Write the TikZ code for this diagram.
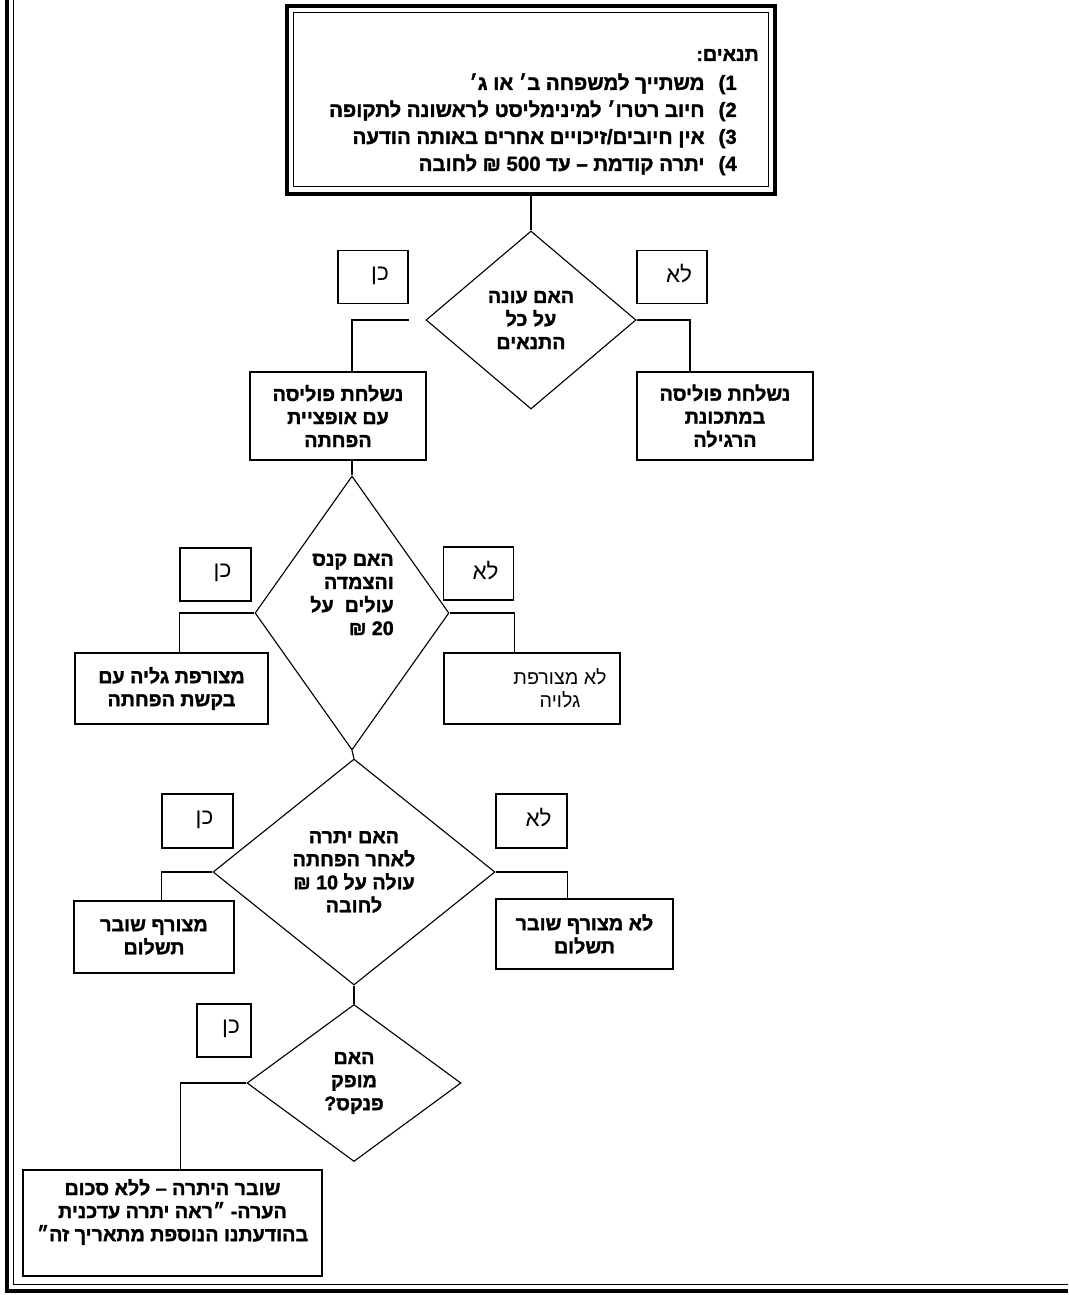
\documentclass[tikz,border=0pt]{standalone}
\usepackage{fontspec}
\usetikzlibrary{shapes.geometric}
\newfontfamily\hebfont[Script=Hebrew,BoldFeatures={FakeBold=1.6}]{Liberation Sans}
\TeXXeTstate=1
\def\px{0.025cm}
\newcommand\rl[1]{\beginR#1\endR}
\newcommand\ans[1]{\hspace*{10pt}\raisebox{5pt}{\rl{#1}}}
\newcommand\hebbold{\hebfont\bfseries\fontsize{14}{16.4}\selectfont}
\begin{document}
\begin{tikzpicture}[x=\px,y=-\px,
	line/.style={line width=0.8pt},
	box/.style={draw,line width=0.8pt,align=center,inner sep=0pt,font=\hebbold},
	ans/.style={draw,line width=0.8pt,minimum width=70*\px,minimum height=53*\px,inner sep=0pt,font=\hebfont\fontsize{16}{19}\selectfont},
	dec/.style={diamond,draw,line width=0.8pt,inner sep=0pt,align=center,font=\hebbold}]
	\useasboundingbox (0,0) rectangle (1068,1295);
	% page frame
	\draw[line width=2.4pt] (7,0) -- (7,1291) -- (1068,1291);
	\draw[line width=0.6pt] (13,0) -- (13,1284) -- (1068,1284);
	% conditions
	\node[draw,line width=2.2pt,minimum width=488*\px,minimum height=188*\px] (conds) at (531,100) {};
	\draw[line width=0.7pt] ([shift={(8,8)}]conds.north west) rectangle ([shift={(-8,-9)}]conds.south east);
	\node[anchor=east,inner sep=0pt,font=\hebbold] (condtitle) at (759,55) {\rl{תנאים:}};
	\node[anchor=north east,align=right,inner sep=0pt,font=\hebfont\bfseries\fontsize{14.5}{19.2}\selectfont] (condlist) at (737,73)
		{\beginR\beginL 1)\endL\hspace{10pt}משתייך למשפחה ב׳ או ג׳\endR\\
		 \beginR\beginL 2)\endL\hspace{10pt}חיוב רטרו׳ למינימליסט לראשונה לתקופה\endR\\
		 \beginR\beginL 3)\endL\hspace{10pt}אין חיובים/זיכויים אחרים באותה הודעה\endR\\
		 \beginR\beginL 4)\endL\hspace{10pt}יתרה קודמת – עד 500 ₪ לחובה\endR};
	% first question
	\node[dec,minimum width=210*\px,minimum height=178*\px] (d1) at (531,320) {\rl{האם עונה}\\ \rl{על כל}\\ \rl{התנאים}};
	\node[ans] (yes1) at (373,277) {\ans{כן}};
	\node[ans] (no1) at (672,277) {\ans{לא}};
	\node[box,minimum width=176*\px,minimum height=88*\px] (p1) at (338,416) {\rl{נשלחת פוליסה}\\ \rl{עם אופציית}\\ \rl{הפחתה}};
	\node[box,minimum width=176*\px,minimum height=88*\px] (p2) at (725,416) {\rl{נשלחת פוליסה}\\ \rl{במתכונת}\\ \rl{הרגילה}};
	\draw[line] (conds.south) -- (d1.north);
	% second question
	\node[dec,aspect=0.7,align=right,minimum width=194*\px,minimum height=274*\px] (d2) at (352,613)
		{\rl{האם קנס}\\ \rl{והצמדה}\\ \rl{עולים~~על}\\ \rl{20 ₪}\\[10pt] \mbox{}};
	\draw[line] (d1.west -| yes1.east) -| (p1.north -| d2.north);
	\draw[line] (d1.east) -| ([xshift=-35*\px]p2.north);
	\node[ans,minimum width=71*\px] (yes2) at (215.5,574.5) {\ans{כן}};
	\node[ans] (no2) at (478.5,573.5) {\ans{לא}};
	\node[box,minimum width=193*\px,minimum height=71*\px] (m1) at (171.5,688.5) {\rl{מצורפת גליה עם}\\ \rl{בקשת הפחתה}};
	\node[box,font=\hebfont\fontsize{14}{16.4}\selectfont,minimum width=176*\px,minimum height=71*\px] (n2) at (532,688.5)
		{\hspace*{1.4cm}\rl{לא מצורפת}\\ \hspace*{1.4cm}\rl{גלויה}};
	\draw[line] (p1.south -| d2.north) -- (d2.north);
	\draw[line] (d2.west) -| (m1.north -| yes2.west);
	\draw[line] (d2.east) -| (n2.north -| no2.east);
	% third question
	\node[dec,minimum width=282*\px,minimum height=226*\px] (d3) at (354,872)
		{\rl{האם יתרה}\\ \rl{לאחר הפחתה}\\ \rl{עולה על 10 ₪}\\ \rl{לחובה}};
	\node[ans,minimum width=71*\px,minimum height=54*\px] (yes3) at (197.5,821) {\ans{כן}};
	\node[ans,minimum width=71*\px,minimum height=54*\px] (no3) at (531.5,821) {\ans{לא}};
	\node[box,minimum width=160*\px,minimum height=72*\px] (m3) at (154,937) {\rl{מצורף שובר}\\ \rl{תשלום}};
	\node[box,minimum width=177*\px,minimum height=70*\px] (n3) at (584.5,934) {\rl{לא מצורף שובר}\\ \rl{תשלום}};
	\draw[line] (d2.south) -- (d3.north);
	\draw[line] (d3.west) -| (m3.north -| yes3.west);
	\draw[line] (d3.east) -| (n3.north -| no3.east);
	% booklet
	\node[dec,minimum width=214*\px,minimum height=157*\px] (d4) at (354,1083) {\rl{האם}\\ \rl{מופק}\\ \rl{פנקס?}};
	\node[ans,minimum width=54*\px] (yes4) at (224,1030.5) {\ans{כן}};
	\node[box,minimum width=299*\px,minimum height=106*\px] (last) at (172.5,1223)
		{\rl{שובר היתרה – ללא סכום}\\ \rl{הערה- ״ראה יתרה עדכנית}\\ \rl{בהודעתנו הנוספת מתאריך זה״}\\[2pt] \mbox{}};
	\draw[line] (d3.south) -- (d4.north);
	\draw[line] (d4.west) -| ([xshift=8*\px]last.north);
\end{tikzpicture}
\end{document}
